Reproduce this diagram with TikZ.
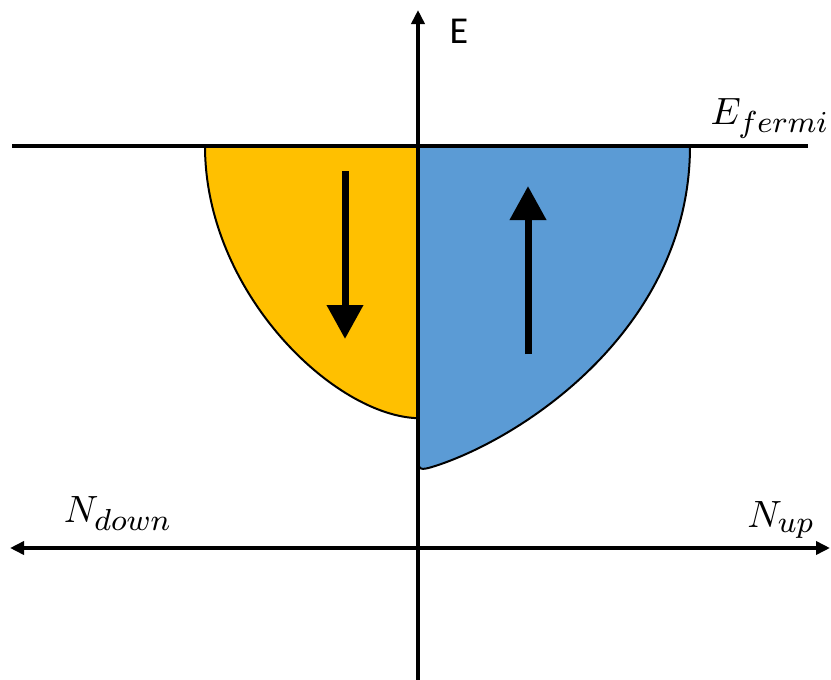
\documentclass[tikz,border=0pt]{standalone}
\usepackage{fontspec}
\newfontfamily\carlito{Carlito}
\DeclareMathSizes{10}{10}{8}{6}
\usetikzlibrary{arrows.meta}
\definecolor{spinyellow}{HTML}{FFC000}
\definecolor{spinblue}{HTML}{5B9BD5}
\begin{document}
\begin{tikzpicture}[x=1pt,y=-1pt,
  axisline/.style={line width=3.5pt, >={Triangle[length=14pt,width=13pt]}},
  region/.style={draw=black, line width=2pt, line join=round},
  spinarrow/.style={line width=7pt, -{Triangle[length=34pt,width=35pt]}},
  mathlabel/.style={scale=3.8, inner sep=0pt},
  textlabel/.style={font=\carlito, scale=3.8, inner sep=0pt}]
\useasboundingbox (0,0) rectangle (831,680);
% coordinates
\coordinate (fl) at (12,146);
\coordinate (fr) at (808,146);
\coordinate (vb) at (418,680);
\coordinate (vt) at (418,10);
\coordinate (hl) at (10,548);
\coordinate (hr) at (830,548);
\coordinate (dtop) at (345,171);
\coordinate (dbot) at (345,339);
\coordinate (ubot) at (528,354);
\coordinate (utop) at (528,186);
% regions
\draw[region, fill=spinyellow] (418,146) -- (205,146)
  .. controls (205,290) and (330,412) .. (414,418) -- (418,418) -- cycle;
\draw[region, fill=spinblue] (418,146) -- (690,146)
  .. controls (690,330) and (520,440) .. (432,467)
  .. controls (422,470) and (418,470) .. (418,462) -- cycle;
% spin arrows
\draw[spinarrow] (dtop) -- (dbot);
\draw[spinarrow] (ubot) -- (utop);
% Fermi level
\draw[line width=4.5pt] (fl) -- (fr);
% axes
\draw[axisline, ->] (vb) -- (vt);
\draw[axisline, <->] (hl) -- (hr);
% labels
\node[textlabel] (elabel) at (459,31) {E};
\node[mathlabel] (efermi) at (770,118) {$E_{fermi}$};
\node[mathlabel] (ndown) at (118,514) {$N_{down}$};
\node[mathlabel] (nup) at (781,520) {$N_{up}$};
\end{tikzpicture}
\end{document}
